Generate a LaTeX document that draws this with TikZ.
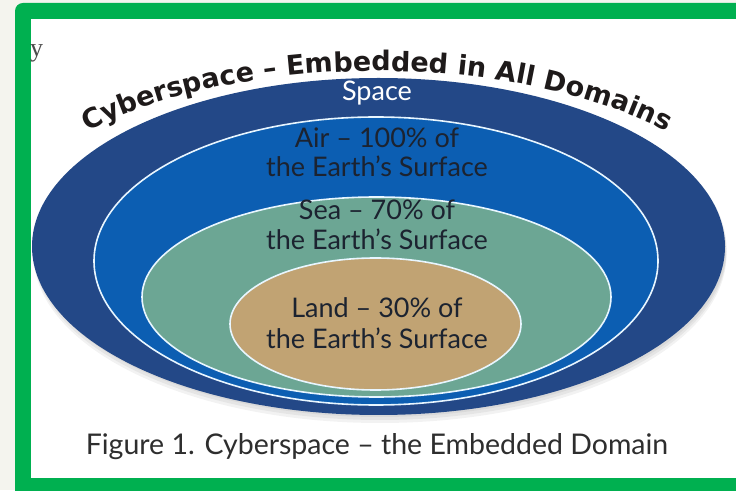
\documentclass[tikz,border=0pt]{standalone}
\usepackage{fontspec}
\setmainfont{Lato}
\newfontfamily\titlefont{DejaVu Sans}
\newfontfamily\strayfont{Liberation Serif}
\usetikzlibrary{shapes.geometric,decorations.text}

\definecolor{pagebg}{HTML}{F4F4EE}
\definecolor{framegreen}{HTML}{00B050}
\definecolor{spaceblue}{HTML}{234887}
\definecolor{airblue}{HTML}{0C5EB2}
\definecolor{seagreen}{HTML}{6CA694}
\definecolor{landtan}{HTML}{C1A373}
\definecolor{ringline}{HTML}{E8F6FF}
\definecolor{lbltext}{HTML}{1C2330}
\definecolor{titleink}{HTML}{1E1A1A}
\definecolor{capink}{HTML}{2E2E2E}

\begin{document}
\begin{tikzpicture}[x=1pt,y=1pt,
    ring/.style={ellipse,inner sep=0pt,draw=ringline,line width=1.6pt},
    lbl/.style={font=\fontsize{27}{31}\selectfont,text=lbltext,anchor=base,inner sep=0pt}]
  \useasboundingbox (0,0) rectangle (736,490);
  \clip (0,0) rectangle (736,490);

  % page and frame
  \fill[pagebg] (0,0) rectangle (736,490);
  \fill[framegreen,rounded corners=8pt] (15,487) rectangle (790,-20);
  \fill[white] (31,471) rectangle (790,12);
  \node[font=\strayfont\fontsize{26}{26}\selectfont,text=black!70,anchor=base west,inner sep=0pt] (stray) at (30,433) {y};

  % soft shadow
  \foreach \d in {2,5,8}
    \fill[black,opacity=.05] (380,243.5-\d) ellipse [x radius=346.5, y radius=168.5];

  % rings
  \node[ring,draw=none,fill=spaceblue,minimum width=693pt,minimum height=337pt] (space) at (378.5,243.5) {};
  \node[ring,fill=airblue,minimum width=564pt,minimum height=288pt] (air) at (376,229) {};
  \node[ring,fill=seagreen,minimum width=469pt,minimum height=200pt] (sea) at (376.5,193) {};
  \node[ring,fill=landtan,minimum width=291pt,minimum height=132pt] (land) at (375.5,166) {};

  % ring texts
  \node[lbl,text=white] (spacetxt) at ([yshift=-23pt]space.north -| 377,0) {Space};
  \node[lbl] (airA) at ([yshift=-31pt]air.north -| 377,0) {Air – 100\% of};
  \node[lbl] (airB) at ([yshift=-29pt]airA.base) {the Earth’s Surface};
  \node[lbl] (seaA) at ([yshift=-23pt]sea.north -| 377,0) {Sea – 70\% of};
  \node[lbl] (seaB) at ([yshift=-30pt]seaA.base) {the Earth’s Surface};
  \node[lbl] (landA) at ([yshift=-60pt]land.north -| 377,0) {Land – 30\% of};
  \node[lbl] (landB) at ([yshift=-31pt]landA.base) {the Earth’s Surface};

  % curved title
  \path[decorate,decoration={text along path,text align=center,
      text={|\titlefont\bfseries\fontsize{27}{27}\selectfont\color{titleink}|Cyberspace – Embedded in All Domains}}]
    (377,243) ++(152:384 and 176) arc[start angle=152,end angle=28,x radius=384,y radius=176];

  % caption
  \node[font=\fontsize{28.5}{32}\selectfont,text=capink,anchor=base,inner sep=0pt] (caption) at (377,36)
    {Figure 1. Cyberspace – the Embedded Domain};
\end{tikzpicture}
\end{document}
